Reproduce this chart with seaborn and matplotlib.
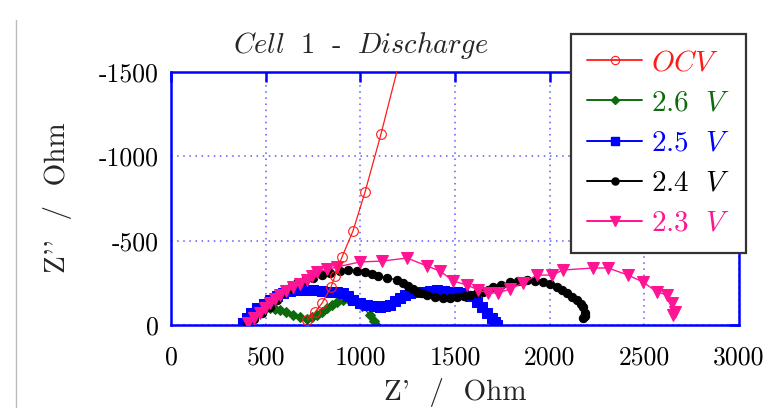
import matplotlib
matplotlib.use("Agg")
import matplotlib.pyplot as plt
import seaborn as sns
from matplotlib.lines import Line2D
from matplotlib.ticker import FixedLocator, FixedFormatter

# ---------------- data (Z' in Ohm, Z'' in Ohm) ----------------
ocv_x = [720, 760, 798, 845, 866, 903, 961, 1025, 1109, 1215]
ocv_y = [-30, -75, -130, -225, -291, -403, -557, -789, -1132, -1600]

v26_x = [378, 400, 430, 460, 490, 523, 550, 576, 610, 644, 680, 718, 745, 771, 798,
         824, 850, 877, 908, 940, 975, 1010, 1051, 1070, 1088]
v26_y = [0, -25, -50, -70, -88, -101, -95, -89, -75, -59, -45, -36, -45, -59, -80,
         -101, -118, -136, -148, -150, -140, -110, -59, -25, 5]

v25_x = [380, 400, 425, 454, 490, 523, 560, 592, 630, 666, 710, 750, 795, 840, 875,
         908, 935, 961, 1000, 1035, 1070, 1104, 1130, 1157, 1185, 1210, 1236, 1262,
         1298, 1331, 1368, 1405, 1440, 1474, 1508, 1542, 1580, 1616, 1645, 1669, 1695,
         1710, 1722]
v25_y = [-12, -40, -70, -101, -125, -148, -170, -190, -200, -208, -208, -208, -200,
         -196, -193, -190, -170, -148, -130, -119, -110, -107, -110, -119, -140, -160,
         -178, -190, -193, -196, -202, -208, -200, -196, -193, -190, -170, -135, -105,
         -71, -40, -15, 0]

v24_x = [401, 440, 480, 523, 560, 592, 630, 666, 710, 750, 795, 840, 890, 935, 980,
         1025, 1060, 1093, 1140, 1194, 1225, 1252, 1280, 1299, 1325, 1352, 1395, 1437,
         1475, 1511, 1545, 1579, 1615, 1648, 1675, 1701, 1745, 1791, 1835, 1880, 1920,
         1965, 2000, 2039, 2065, 2092, 2120, 2145, 2165, 2176, 2187, 2185, 2176]
v24_y = [0, -35, -70, -107, -150, -190, -220, -249, -265, -279, -294, -308, -318,
         -326, -322, -314, -302, -290, -280, -267, -250, -231, -212, -196, -187, -178,
         -168, -160, -163, -166, -172, -178, -188, -196, -210, -225, -240, -255, -262,
         -267, -263, -255, -242, -225, -208, -190, -168, -148, -125, -107, -71, -55, -41]

v23_x = [407, 440, 470, 497, 523, 550, 576, 610, 644, 680, 718, 745, 771, 825, 877,
         998, 1115, 1247, 1352, 1421, 1490, 1563, 1622, 1674, 1727, 1791, 1859, 1933,
         2012, 2071, 2229, 2308, 2414, 2493, 2567, 2620, 2646, 2662, 2652]
v23_y = [-12, -40, -71, -100, -130, -155, -178, -200, -225, -245, -267, -290, -314,
         -330, -344, -374, -379, -397, -350, -320, -261, -237, -208, -190, -190, -213,
         -249, -296, -296, -326, -338, -338, -296, -255, -196, -178, -130, -77, -59]

legend_labels = [r"$OCV$", r"$2.6\ \ V$", r"$2.5\ \ V$", r"$2.4\ \ V$", r"$2.3\ \ V$"]
x_ticks = [0, 500, 1000, 1500, 2000, 2500, 3000]
y_ticks = [0, -500, -1000, -1500]
y_ticklabels = ["0", "-500", "-1000", "-1500"]
title = r"$Cell\ \ 1\ \ \text{-}\ \ Discharge$"
xlabel = "Z'  /  Ohm"
ylabel = "Z''  /  Ohm"

# ---------------- style ----------------
sns.set_style("white")
plt.rcParams["font.family"] = ["cmr10", "DejaVu Serif"]
plt.rcParams["mathtext.fontset"] = "cm"
plt.rcParams["axes.unicode_minus"] = False

W, H = 763, 408
fig = plt.figure(figsize=(W / 100, H / 100), dpi=100)
ax = fig.add_axes([171 / W, 1 - 325 / H, (739 - 171) / W, (325 - 72) / H])

RED = "#ff1a1a"
GREEN = "#0d6b0d"
BLUE = "#0000ff"
BLACK = "#000000"
PINK = "#ff1493"

series = [
    (ocv_x, ocv_y, RED, "o", 7, dict(markerfacecolor="none", markeredgecolor=RED, markeredgewidth=0.8), 0.9, 6),
    (v26_x, v26_y, GREEN, "D", 5, dict(markeredgecolor=GREEN), 1.0, 2),
    (v25_x, v25_y, BLUE, "s", 6.5, dict(markeredgecolor=BLUE), 1.0, 3),
    (v24_x, v24_y, BLACK, "o", 6, dict(markeredgecolor=BLACK), 1.0, 4),
    (v23_x, v23_y, PINK, "v", 8.5, dict(markeredgecolor=PINK), 1.0, 5),
]

handles = []
for (xs, ys, col, mk, ms, extra, lw, z) in series:
    sns.lineplot(x=xs, y=ys, sort=False, estimator=None, color=col, marker=mk,
                 markersize=ms, linewidth=lw, ax=ax, zorder=z, **extra)
    handles.append(Line2D([], [], color=col, marker=mk, markersize=ms * 0.85,
                          linewidth=lw + 0.4, **extra))

ax.set_xlim(0, 3000)
ax.set_ylim(0, -1500)

ax.xaxis.set_major_locator(FixedLocator(x_ticks))
ax.xaxis.set_major_formatter(FixedFormatter([str(t) for t in x_ticks]))
ax.yaxis.set_major_locator(FixedLocator(y_ticks))
ax.yaxis.set_major_formatter(FixedFormatter(y_ticklabels))

ax.grid(True, color="#5a5aff", linestyle=(0, (1, 3)), linewidth=1.1)
for sp in ax.spines.values():
    sp.set_color(BLUE)
    sp.set_linewidth(1.8)
    sp.set_visible(True)

ax.tick_params(axis="both", which="major", direction="in", length=7, width=1.8,
               color=BLUE, top=True, right=True, labelcolor="black")
ax.tick_params(axis="x", pad=15)
ax.tick_params(axis="y", pad=9)
for lab in ax.get_xticklabels() + ax.get_yticklabels():
    lab.set_fontsize(18.5)
ax.set_xlabel("")
ax.set_ylabel("")

fig.text(455 / W, 1 - 400 / H, xlabel, ha="center", va="baseline", fontsize=21)
fig.text(58 / W, 1 - 198 / H, ylabel, ha="center", va="center", fontsize=21,
         rotation=90)
fig.text(361 / W, 1 - 53 / H, title, ha="center", va="baseline", fontsize=20.5)

leg = ax.legend(handles, legend_labels, loc="upper left",
                bbox_to_anchor=(571 / W, 1 - 34 / H), bbox_transform=fig.transFigure,
                borderaxespad=0, fontsize=21, handlelength=1.9, labelspacing=0.47,
                handletextpad=0.3, borderpad=0.55, fancybox=False, framealpha=1,
                edgecolor="#333333")
leg.get_frame().set_linewidth(1.6)
leg.set_zorder(10)
for t, c in zip(leg.get_texts(), [RED, GREEN, BLUE, BLACK, PINK]):
    t.set_color(c)

fig.add_artist(Line2D([16 / W, 16 / W], [0, 1 - 20 / H], color="#bbbbbb",
                      linewidth=1.0, transform=fig.transFigure))

fig.savefig("out.png", dpi=100)
